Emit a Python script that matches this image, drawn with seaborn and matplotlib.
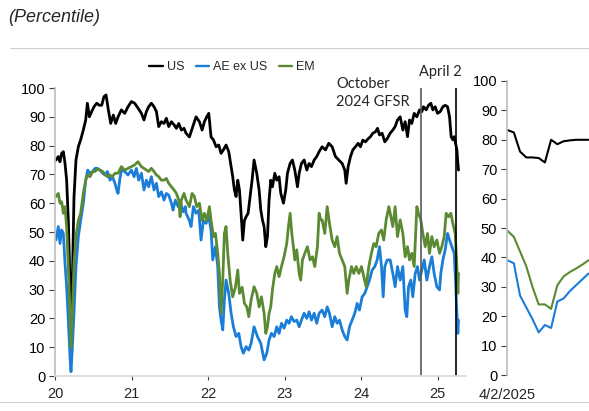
import numpy as np
import pandas as pd
import seaborn as sns
from matplotlib import pyplot as plt
from matplotlib.lines import Line2D

# ---- data (fractional years, percentile) ----
us_t = [2020.013, 2020.043, 2020.065, 2020.087, 2020.109, 2020.131, 2020.152, 2020.174, 2020.196, 2020.209,
        2020.227, 2020.248, 2020.274, 2020.305, 2020.335, 2020.370, 2020.401, 2020.423, 2020.449, 2020.479,
        2020.510, 2020.545, 2020.579, 2020.610, 2020.640, 2020.667, 2020.697, 2020.728, 2020.762, 2020.793,
        2020.824, 2020.867, 2020.911, 2020.954, 2020.998, 2021.041, 2021.085, 2021.129, 2021.163, 2021.194,
        2021.224, 2021.259, 2021.294, 2021.325, 2021.355, 2021.390, 2021.425, 2021.455, 2021.486, 2021.521,
        2021.556, 2021.586, 2021.617, 2021.651, 2021.686, 2021.712, 2021.756, 2021.800, 2021.843, 2021.887,
        2021.922, 2021.952, 2021.983, 2022.009, 2022.039, 2022.070, 2022.105, 2022.139, 2022.170, 2022.200,
        2022.235, 2022.270, 2022.301, 2022.322, 2022.344, 2022.366, 2022.388, 2022.410, 2022.431, 2022.453,
        2022.475, 2022.497, 2022.523, 2022.549, 2022.575, 2022.601, 2022.636, 2022.667, 2022.689, 2022.710,
        2022.732, 2022.754, 2022.776, 2022.797, 2022.819, 2022.841, 2022.872, 2022.898, 2022.928, 2022.950,
        2022.985, 2023.015, 2023.037, 2023.072, 2023.102, 2023.133, 2023.168, 2023.190, 2023.220, 2023.255,
        2023.290, 2023.320, 2023.351, 2023.386, 2023.420, 2023.451, 2023.490, 2023.534, 2023.577, 2023.621,
        2023.664, 2023.708, 2023.752, 2023.786, 2023.804, 2023.830, 2023.861, 2023.891, 2023.926, 2023.961,
        2023.991, 2024.022, 2024.057, 2024.092, 2024.122, 2024.152, 2024.187, 2024.214, 2024.240, 2024.274,
        2024.309, 2024.340, 2024.379, 2024.414, 2024.444, 2024.475, 2024.510, 2024.545, 2024.575, 2024.606,
        2024.632, 2024.662, 2024.693, 2024.728, 2024.763, 2024.793, 2024.815, 2024.850, 2024.880, 2024.911,
        2024.937, 2024.967, 2024.998, 2025.033, 2025.068, 2025.098, 2025.129, 2025.155, 2025.176, 2025.198,
        2025.216, 2025.233, 2025.251, 2025.264, 2025.272]
us_v = [75, 76.2, 74.4, 77.3, 77.9, 73.8, 68, 54, 33, 19.4,
        33, 62, 75, 79.6, 82, 85.4, 88.9, 94.7, 90, 91.8,
        93.5, 94.7, 94, 94, 97, 97.6, 92.4, 87.7, 90.6, 87.7,
        90, 92.4, 91.2, 93.5, 95.3, 94.7, 93, 91.2, 88.9, 91.8,
        93.5, 94.7, 93.5, 91.8, 86.6, 88.3, 87.7, 89.5, 86.6, 88.3,
        87.2, 86, 87.7, 85.4, 86, 84.3, 83, 86.6, 90, 88.3,
        85.4, 88.3, 90, 91.2, 83, 82, 79.6, 80.2, 77.3, 78.5,
        80.2, 77.9, 72.7, 69.2, 64.6, 62.3, 68, 64.6, 56.5, 47.2,
        54, 55.3, 56.5, 62.3, 68, 75, 70.4, 64.6, 57.6, 54.2,
        51.9, 44.9, 48.4, 61.1, 68, 65.7, 70.4, 68, 69.2, 63.4,
        60, 64.6, 70.4, 73.8, 75, 71.5, 65.7, 70.4, 73.8, 75,
        71.5, 73.8, 72.7, 75, 76.2, 77.9, 79.6, 78.5, 80.8, 79.6,
        76.2, 75, 73.8, 71.5, 66.9, 72.7, 76.2, 78.5, 79.6, 80.8,
        79.6, 81.9, 81.3, 82.4, 83.1, 84.3, 84.8, 86, 83.7, 84.3,
        81.3, 82.4, 84.3, 85.4, 86.6, 88.9, 90, 85.4, 88.3, 83.1,
        88.9, 87.7, 91.2, 90, 92.4, 91.8, 93.5, 92.4, 94, 94.7,
        92.4, 93.5, 91.2, 91.8, 93.5, 94, 93.5, 90, 83.1, 82,
        83.1, 80.8, 78.5, 73.8, 71.5]

ae_t = [2020.013, 2020.043, 2020.065, 2020.087, 2020.109, 2020.131, 2020.152, 2020.174, 2020.196, 2020.209,
        2020.227, 2020.248, 2020.274, 2020.305, 2020.335, 2020.370, 2020.401, 2020.427, 2020.457, 2020.492,
        2020.523, 2020.553, 2020.588, 2020.623, 2020.653, 2020.684, 2020.719, 2020.749, 2020.784, 2020.806,
        2020.824, 2020.845, 2020.867, 2020.911, 2020.954, 2020.998, 2021.033, 2021.063, 2021.094, 2021.129,
        2021.163, 2021.194, 2021.224, 2021.259, 2021.294, 2021.325, 2021.355, 2021.390, 2021.425, 2021.455,
        2021.486, 2021.521, 2021.542, 2021.573, 2021.608, 2021.643, 2021.673, 2021.704, 2021.712, 2021.756,
        2021.778, 2021.808, 2021.843, 2021.878, 2021.908, 2021.939, 2021.974, 2022.009, 2022.039, 2022.061,
        2022.096, 2022.126, 2022.148, 2022.170, 2022.192, 2022.213, 2022.235, 2022.270, 2022.301, 2022.331,
        2022.366, 2022.401, 2022.431, 2022.462, 2022.497, 2022.532, 2022.562, 2022.601, 2022.645, 2022.689,
        2022.732, 2022.767, 2022.797, 2022.828, 2022.863, 2022.898, 2022.928, 2022.959, 2022.993, 2023.028,
        2023.059, 2023.089, 2023.124, 2023.159, 2023.190, 2023.220, 2023.255, 2023.290, 2023.320, 2023.351,
        2023.386, 2023.420, 2023.451, 2023.490, 2023.525, 2023.556, 2023.586, 2023.621, 2023.656, 2023.686,
        2023.717, 2023.752, 2023.786, 2023.817, 2023.848, 2023.882, 2023.917, 2023.948, 2023.978, 2024.013,
        2024.048, 2024.078, 2024.109, 2024.144, 2024.179, 2024.209, 2024.240, 2024.266, 2024.288, 2024.309,
        2024.340, 2024.379, 2024.414, 2024.444, 2024.475, 2024.510, 2024.545, 2024.575, 2024.597, 2024.619,
        2024.649, 2024.675, 2024.706, 2024.736, 2024.763, 2024.793, 2024.824, 2024.858, 2024.893, 2024.924,
        2024.954, 2024.989, 2025.024, 2025.041, 2025.068, 2025.098, 2025.129, 2025.155, 2025.185, 2025.216,
        2025.233, 2025.251, 2025.264, 2025.272]
ae_v = [47.2, 51.9, 46, 50.7, 49.5, 39, 31, 19.4, 6.7, 1.5,
        10, 21.8, 38, 48.4, 54, 60, 68, 71.5, 70.4, 71,
        72.1, 72.1, 71.5, 70.4, 69.8, 71, 68, 69.2, 66.9, 64.6,
        63.4, 68, 71.5, 71, 69.8, 71.5, 69.2, 72.1, 68, 70.4,
        64.6, 68, 65.7, 69.2, 64.6, 66.9, 62.3, 64, 61.1, 63.4,
        62.8, 60, 57.6, 61.1, 58.8, 60, 57, 58.8, 56.5, 54,
        51.9, 58.8, 56.5, 57.6, 47.2, 54, 53, 55.3, 50.7, 40.3,
        44.9, 38, 24, 19.4, 16, 26.4, 33.3, 28.7, 21.8, 17.1,
        13.7, 14.8, 10.2, 7.9, 10.2, 9, 11.3, 17.1, 13.7, 11.3,
        5.6, 7.9, 12.5, 14.8, 13.7, 17.1, 14.8, 18.3, 16.6, 19.4,
        18.3, 20.6, 18.9, 19.4, 17.1, 19.4, 21.8, 20, 22.3, 19.4,
        21.8, 18.3, 21.8, 22.9, 20.6, 24, 21.8, 17.1, 20.6, 18.3,
        19.4, 16, 13.7, 12.5, 17.1, 19.4, 21.8, 25.2, 22.9, 27.5,
        28.7, 31, 33.3, 36.8, 38, 40.3, 44.9, 38, 27.5, 38,
        40.3, 40.3, 35.6, 31, 38, 33.3, 38, 22.9, 20.6, 31,
        33.3, 27.5, 35.6, 38, 33.3, 36.8, 40.3, 33.3, 38, 41.4,
        35.6, 31, 29.9, 35.6, 40.3, 43.8, 49.5, 47.2, 44.9, 42.6,
        33.3, 21.8, 14.8, 19.4]

em_t = [2020.013, 2020.043, 2020.065, 2020.087, 2020.109, 2020.131, 2020.152, 2020.174, 2020.196, 2020.209,
        2020.227, 2020.248, 2020.274, 2020.305, 2020.335, 2020.370, 2020.401, 2020.427, 2020.457, 2020.492,
        2020.523, 2020.553, 2020.588, 2020.623, 2020.653, 2020.684, 2020.719, 2020.749, 2020.784, 2020.824,
        2020.867, 2020.911, 2020.954, 2020.998, 2021.041, 2021.085, 2021.129, 2021.163, 2021.194, 2021.224,
        2021.259, 2021.294, 2021.325, 2021.355, 2021.390, 2021.425, 2021.455, 2021.486, 2021.521, 2021.556,
        2021.586, 2021.617, 2021.634, 2021.651, 2021.686, 2021.712, 2021.756, 2021.791, 2021.821, 2021.852,
        2021.887, 2021.922, 2021.952, 2021.983, 2022.017, 2022.039, 2022.070, 2022.096, 2022.126, 2022.148,
        2022.170, 2022.192, 2022.213, 2022.235, 2022.257, 2022.288, 2022.322, 2022.357, 2022.388, 2022.410,
        2022.445, 2022.475, 2022.506, 2022.532, 2022.562, 2022.601, 2022.636, 2022.667, 2022.697, 2022.732,
        2022.754, 2022.776, 2022.797, 2022.819, 2022.841, 2022.872, 2022.898, 2022.928, 2022.959, 2022.993,
        2023.028, 2023.050, 2023.072, 2023.094, 2023.115, 2023.133, 2023.159, 2023.190, 2023.211, 2023.233,
        2023.264, 2023.298, 2023.333, 2023.364, 2023.394, 2023.429, 2023.451, 2023.473, 2023.490, 2023.525,
        2023.556, 2023.586, 2023.621, 2023.656, 2023.686, 2023.717, 2023.752, 2023.786, 2023.817, 2023.839,
        2023.874, 2023.904, 2023.935, 2023.970, 2024.004, 2024.035, 2024.065, 2024.100, 2024.134, 2024.165,
        2024.195, 2024.230, 2024.265, 2024.295, 2024.327, 2024.362, 2024.379, 2024.414, 2024.444, 2024.475,
        2024.510, 2024.545, 2024.575, 2024.606, 2024.632, 2024.662, 2024.693, 2024.728, 2024.749, 2024.780,
        2024.806, 2024.837, 2024.867, 2024.893, 2024.924, 2024.954, 2024.989, 2025.024, 2025.054, 2025.085,
        2025.111, 2025.142, 2025.172, 2025.198, 2025.229, 2025.251, 2025.264, 2025.272]
em_v = [62.3, 63.4, 60, 60.5, 56.5, 58.8, 51.9, 38, 21.8, 10,
        21.8, 39, 48.4, 54, 56.5, 63.4, 68, 69.8, 69.2, 71,
        71, 71.8, 71.5, 71, 70, 69.2, 69.8, 69.2, 70.4, 70.4,
        72.7, 71.5, 72.1, 72.7, 73.3, 74.4, 72.7, 72.1, 71.5, 71,
        72.1, 71, 69.8, 69.2, 68, 68, 68.6, 66.9, 65.7, 64.6,
        63.4, 61.1, 55.3, 61.1, 63.4, 61.1, 58.8, 63.4, 62.3, 58.8,
        60, 54, 56.5, 54, 58.8, 54, 48.4, 49.5, 42.6, 35.6,
        21.8, 33.3, 49.5, 51.9, 42.6, 33.3, 27.5, 30.8, 36.8, 28.7,
        30.8, 25.2, 24, 20.6, 26.4, 31, 28.7, 24, 27.5, 21.8,
        14.8, 17.1, 21.8, 24, 29.9, 35.6, 38, 34.5, 38, 41.4,
        46, 51.9, 56.5, 49.5, 44.9, 40.3, 43.8, 35.6, 33.3, 40.3,
        42.6, 44.9, 40.3, 41.4, 38, 44.9, 56.5, 54.2, 54.2, 49.5,
        58.8, 53, 47.2, 44.9, 48.4, 42.6, 40.3, 38, 28.7, 33.3,
        38, 35.6, 38, 35.6, 38, 34.5, 31, 38, 42.6, 46,
        44.9, 49.5, 50.7, 47.2, 54.2, 58.8, 56.5, 51.9, 58.8, 48.4,
        54.2, 49.5, 41.4, 44.9, 40.3, 42.6, 38, 58.8, 56.5, 54.2,
        49.5, 44.9, 49.5, 42.6, 48.4, 44.9, 47.2, 42.6, 44.9, 48.4,
        56.5, 55.3, 56.5, 53, 49.5, 38, 28.7, 35.6]

# zoom panel: trading days from 4/2/2025
zoom_day = list(range(14))
zoom_us = [83.3, 82.5, 76, 74, 74, 73.8, 72.3, 80, 78.5, 79.5, 79.8, 80, 80, 80]
zoom_ae = [39, 38, 27, 23, 19, 14.5, 17, 16, 25, 26, 28.5, 30.5, 32.5, 34.5]
zoom_em = [49, 47, 42, 37, 30, 24, 24, 22.5, 30.5, 33.5, 35, 36.2, 37.5, 39]

series_names = ["US", "AE ex US", "EM"]
colors = {"US": "#000000", "AE ex US": "#1a7dd7", "EM": "#5b8a32"}
year_ticks = [2020, 2021, 2022, 2023, 2024, 2025]
year_labels = ["20", "21", "22", "23", "24", "25"]
gfsr_date = 2024.78
april2_date = 2025.245

main_df = pd.concat([
    pd.DataFrame({"t": us_t, "v": us_v, "series": "US"}),
    pd.DataFrame({"t": ae_t, "v": ae_v, "series": "AE ex US"}),
    pd.DataFrame({"t": em_t, "v": em_v, "series": "EM"}),
])
zoom_df = pd.concat([
    pd.DataFrame({"t": zoom_day, "v": zoom_us, "series": "US"}),
    pd.DataFrame({"t": zoom_day, "v": zoom_ae, "series": "AE ex US"}),
    pd.DataFrame({"t": zoom_day, "v": zoom_em, "series": "EM"}),
])

sns.set_theme(style="white")
plt.rcParams["font.family"] = ["Liberation Sans", "DejaVu Sans"]

W, H = 589, 411
fig = plt.figure(figsize=(W / 100, H / 100), dpi=100)
ax = fig.add_axes([55 / W, 1 - 376 / H, (466 - 55) / W, (376 - 88) / H])
ax2 = fig.add_axes([507 / W, 1 - 375 / H, (589 - 507) / W, (375 - 81) / H])

sns.lineplot(data=main_df, x="t", y="v", hue="series", hue_order=series_names, palette=colors,
             estimator=None, sort=False, linewidth=2.0, legend=False, ax=ax)
sns.lineplot(data=zoom_df, x="t", y="v", hue="series", hue_order=series_names, palette=colors,
             estimator=None, sort=False, linewidth=1.5, legend=False, ax=ax2)

for a in (ax, ax2):
    a.set_ylim(0, 100)
    a.set_yticks(range(0, 101, 10))
    a.set_xlabel("")
    a.set_ylabel("")
    for s in ("top", "right"):
        a.spines[s].set_visible(False)
    a.spines["left"].set_color("#bfbfbf")
    a.spines["bottom"].set_color("#d9d9d9")
    a.tick_params(axis="y", which="both", left=True, length=4, width=0.8, color="#404040",
                  labelsize=10.5, pad=3, labelcolor="#000000")

ax.set_xlim(2020.0, 2025.37)
ax.set_xticks(year_ticks)
ax.set_xticklabels(year_labels)
ax.tick_params(axis="x", bottom=True, length=3, width=0.8, color="#404040", labelsize=10.5, pad=5)

ax2.set_xlim(-0.1, 13.1)
ax2.set_xticks([0])
ax2.set_xticklabels(["4/2/2025"])
ax2.spines["bottom"].set_visible(False)
ax2.tick_params(axis="x", bottom=False, labelsize=10.5, pad=3)

ax.axvline(gfsr_date, color="#595959", linewidth=1.2)
ax.axvline(april2_date, color="#000000", linewidth=1.2)

fig.text(8 / W, 1 - 18 / H, "(Percentile)", fontsize=13, style="italic", va="center", ha="left")
fig.add_artist(Line2D([10 / W, 1], [1 - 48 / H, 1 - 48 / H], color="#d0d0d0", linewidth=0.8))
fig.add_artist(Line2D([0, 1], [1 - 402 / H, 1 - 402 / H], color="#d0d0d0", linewidth=0.8))

fig.text(336 / W, 1 - 77 / H, "October\n2024 GFSR", fontsize=10.5, family=["Lato", "DejaVu Sans"],
         va="top", ha="left", linespacing=1.35)
fig.text(440 / W, 1 - 72 / H, "April 2", fontsize=10.5, family=["Lato", "DejaVu Sans"],
         va="center", ha="center")

handles = [Line2D([], [], color=colors[n], linewidth=1.7) for n in series_names]
fig.legend(handles, series_names, ncol=3, loc="center", bbox_to_anchor=(232 / W, 1 - 67 / H),
           frameon=False, fontsize=9, handlelength=1.1, handletextpad=0.3, columnspacing=0.9)

plt.savefig("out.png", dpi=100)
